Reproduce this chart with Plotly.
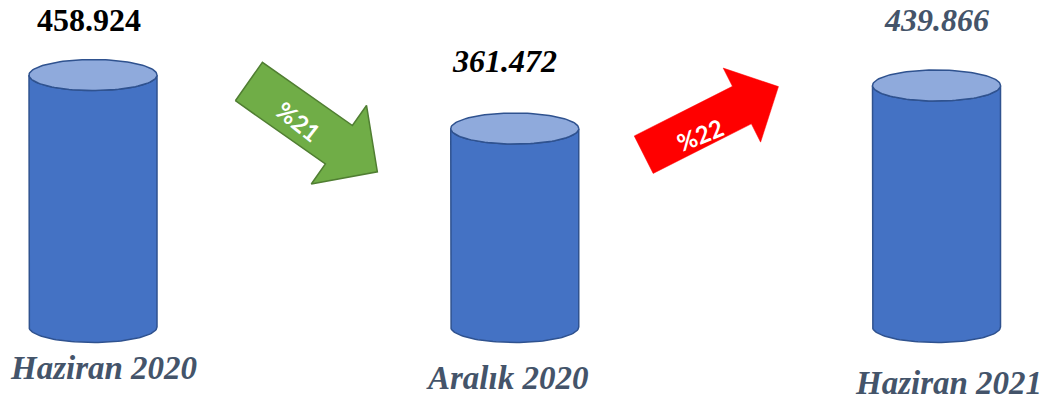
import numpy as np
import plotly.graph_objects as go

# ---- data ----
periods = ["Haziran 2020", "Aralık 2020", "Haziran 2021"]
values = [458.924, 361.472, 439.866]
value_labels = ["458.924", "361.472", "439.866"]
change_labels = ["%21", "%22"]

# ---- layout constants (pixels) ----
W, H = 1045, 401
x0_px, x_step_px = 93.0, 421.75       # pixel of category 0, pixels per category
base_px, px_per_unit = 327.0, 0.549   # pixel of value 0, pixels per value unit
half_w_px, ry_px = 64.0, 15.5

xr0 = -x0_px / x_step_px
xr1 = xr0 + W / x_step_px
yr1 = base_px / px_per_unit
yr0 = yr1 - H / px_per_unit

def px2x(p):
    return xr0 + p / x_step_px

def px2y(p):
    return yr1 - p / px_per_unit

w = half_w_px / x_step_px
ry = ry_px / px_per_unit

body_col, top_col, edge_col = "#4472C4", "#8FAADC", "#2F528F"
serif = "Liberation Serif, Times New Roman, serif"

fig = go.Figure()

for i, v in enumerate(values):
    t1 = np.linspace(np.pi, 0, 60)
    t2 = np.linspace(0, np.pi, 60)
    bx = np.concatenate([[i - w], i + w * np.cos(t1), [i + w], i + w * np.cos(t2)])
    by = np.concatenate([[v], -ry * np.sin(t1), [v], v - ry * np.sin(t2)])
    fig.add_trace(go.Scatter(x=bx, y=by, fill="toself", fillcolor=body_col,
                             mode="lines", line=dict(color=edge_col, width=1.5),
                             hoverinfo="skip", showlegend=False))
    t = np.linspace(0, 2 * np.pi, 120)
    fig.add_trace(go.Scatter(x=i + w * np.cos(t), y=v + ry * np.sin(t), fill="toself",
                             fillcolor=top_col, mode="lines",
                             line=dict(color=edge_col, width=1.5),
                             hoverinfo="skip", showlegend=False))

# arrows (pixel geometry)
def arrow(tail, ang_deg, length, shaft_w, head_w, head_len):
    a = np.radians(ang_deg)
    d = np.array([np.cos(a), np.sin(a)])
    n = np.array([-np.sin(a), np.cos(a)])
    tail = np.array(tail)
    base = tail + d * (length - head_len)
    tip = tail + d * length
    pts = [tail + n * shaft_w / 2, base + n * shaft_w / 2, base + n * head_w / 2, tip,
           base - n * head_w / 2, base - n * shaft_w / 2, tail - n * shaft_w / 2,
           tail + n * shaft_w / 2]
    xs = [px2x(p[0]) for p in pts]
    ys = [px2y(p[1]) for p in pts]
    return xs, ys

arrows = [
    dict(tail=(248.9, 81.5), ang=35.1, length=157, sw=47, hw=96, hl=47,
         fill="#70AD47", edge="#507E32", ew=1.5, text_at=(299, 121), tang=38),
    dict(tail=(643.7, 154.7), ang=-26.8, length=151, sw=42, hw=83, hl=41,
         fill="#FF0000", edge="#FF0000", ew=0.5, text_at=(700, 134), tang=-22),
]
for k, a in enumerate(arrows):
    xs, ys = arrow(a["tail"], a["ang"], a["length"], a["sw"], a["hw"], a["hl"])
    fig.add_trace(go.Scatter(x=xs, y=ys, fill="toself", fillcolor=a["fill"], mode="lines",
                             line=dict(color=a["edge"], width=a["ew"]),
                             hoverinfo="skip", showlegend=False))
    fig.add_annotation(x=px2x(a["text_at"][0]), y=px2y(a["text_at"][1]),
                       text=f"<b>{change_labels[k]}</b>",
                       showarrow=False, textangle=a["tang"],
                       font=dict(family="Lato, Open Sans, sans-serif", size=24, color="white"))

# value labels
label_gap = [20, 32, 30]
value_styles = [
    dict(color="black", italic=False),
    dict(color="black", italic=True),
    dict(color="#44546A", italic=True),
]
value_xshift = [-4, -10, 0]
for i, v in enumerate(values):
    st = value_styles[i]
    txt = "<b>" + (f"<i>{value_labels[i]}</i>" if st["italic"] else value_labels[i]) + "</b>"
    fig.add_annotation(x=i, y=v, text=txt, showarrow=False, yanchor="bottom",
                       yshift=ry_px + label_gap[i], xshift=value_xshift[i],
                       font=dict(family=serif, size=32, color=st["color"]))

# period labels
period_yshift = [-41, -51, -56]
period_xshift = [10, -8, 12]
for i, p in enumerate(periods):
    fig.add_annotation(x=i, y=0, text=f"<b><i>{p}</i></b>", showarrow=False,
                       yanchor="middle", yshift=period_yshift[i], xshift=period_xshift[i],
                       font=dict(family=serif, size=33, color="#44546A"))

fig.update_layout(
    width=W, height=H, margin=dict(l=0, r=0, t=0, b=0),
    paper_bgcolor="white", plot_bgcolor="white",
    xaxis=dict(range=[xr0, xr1], visible=False, fixedrange=True),
    yaxis=dict(range=[yr0, yr1], visible=False, fixedrange=True),
)

fig.write_html("out.html")
